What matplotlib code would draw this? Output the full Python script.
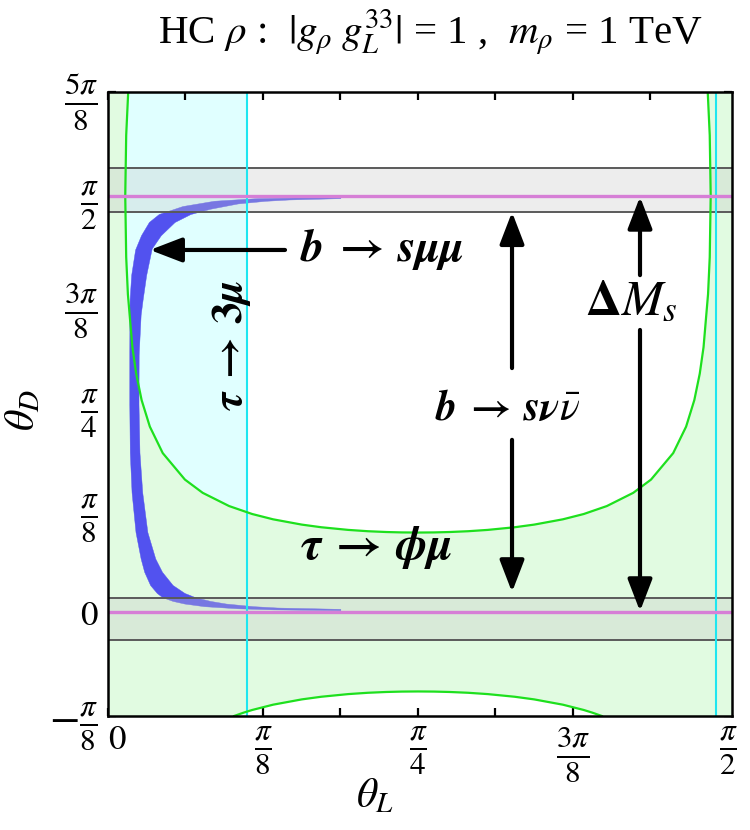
import numpy as np
import matplotlib
matplotlib.use('Agg')
import matplotlib.pyplot as plt
from matplotlib.transforms import ScaledTranslation

plt.rcParams['font.family'] = ['Liberation Serif', 'DejaVu Serif']
plt.rcParams['mathtext.fontset'] = 'stix'

PI = np.pi

# ---------------- data (radians) ----------------
xtick_vals = [0, PI/8, PI/4, 3*PI/8, PI/2]
xtick_labels = [r'$0$', r'$\frac{\pi}{8}$', r'$\frac{\pi}{4}$', r'$\frac{3\pi}{8}$', r'$\frac{\pi}{2}$']
ytick_vals = [-PI/8, 0, PI/8, PI/4, 3*PI/8, PI/2, 5*PI/8]
ytick_labels = [r'$-\frac{\pi}{8}$', r'$0$', r'$\frac{\pi}{8}$', r'$\frac{\pi}{4}$',
                r'$\frac{3\pi}{8}$', r'$\frac{\pi}{2}$', r'$\frac{5\pi}{8}$']

# tau -> phi mu : upper U-shaped boundary (theta_L, theta_D)
phimu_upper_L = [0.0512, 0.0461, 0.0437, 0.0461, 0.0504, 0.0618, 0.0714, 0.0852, 0.1060, 0.1387,
                 0.1949, 0.2399, 0.3069, 0.3653, 0.4182, 0.4909, 0.5404, 0.6086, 0.6585, 0.7051,
                 0.7447, 0.7854, 0.8261, 0.8657, 0.9123, 0.9622, 1.0304, 1.0799, 1.1526, 1.2055,
                 1.2639, 1.3309, 1.3759, 1.4321, 1.4648, 1.4856, 1.4994, 1.5090, 1.5204, 1.5247,
                 1.5271, 1.5247, 1.5196]
phimu_upper_D = [1.9635, 1.80, 1.571, 1.34, 1.20, 1.00, 0.90, 0.80, 0.70, 0.60,
                 0.50, 0.45, 0.40, 0.37, 0.35, 0.33, 0.32, 0.31, 0.305, 0.302,
                 0.3005, 0.300, 0.3005, 0.302, 0.305, 0.31, 0.32, 0.33, 0.35, 0.37,
                 0.40, 0.45, 0.50, 0.60, 0.70, 0.80, 0.90, 1.00, 1.20, 1.34,
                 1.571, 1.80, 1.9635]
# tau -> phi mu : lower boundary
phimu_lower_L = [0.3195, 0.3437, 0.3653, 0.4182, 0.4909, 0.5404, 0.6086, 0.6585, 0.7051, 0.7447,
                 0.7854, 0.8261, 0.8657, 0.9123, 0.9622, 1.0304, 1.0799, 1.1526, 1.2055, 1.2271,
                 1.2513]
phimu_lower_D = [-0.3927, -0.38, -0.37, -0.35, -0.33, -0.32, -0.31, -0.305, -0.302, -0.3005,
                 -0.300, -0.3005, -0.302, -0.305, -0.31, -0.32, -0.33, -0.35, -0.37, -0.38,
                 -0.3927]

# tau -> 3 mu boundaries in theta_L
tau3mu_left = 0.352
tau3mu_right = 1.541

# Delta M_s bands in theta_D
dms_band_low = (-0.1070, 0.0535)
dms_band_high = (1.5110, 1.6754)
# purple lines
purple_lines = [0.0, PI/2]

# b -> s mu mu band: outer edge (lower tail -> upper tail), then inner edge (upper tail -> lower tail)
bsmm_outer_L = [0.590, 0.420, 0.330, 0.245, 0.195, 0.165, 0.139, 0.125, 0.108, 0.093,
                0.084, 0.071, 0.061, 0.0565, 0.0552, 0.0552, 0.0556, 0.0560, 0.0600, 0.0700,
                0.0850, 0.1050, 0.1300, 0.1500, 0.1900, 0.2700, 0.3800, 0.590]
bsmm_outer_D = [0.0049, 0.008, 0.012, 0.020, 0.030, 0.040, 0.054, 0.070, 0.100, 0.150,
                0.200, 0.300, 0.450, 0.600, 0.785, 0.971, 1.121, 1.178, 1.271, 1.367,
                1.421, 1.471, 1.501, 1.511, 1.531, 1.551, 1.561, 1.5659]
bsmm_inner_L = [0.590, 0.460, 0.400, 0.330, 0.260, 0.210, 0.170, 0.135, 0.112, 0.098,
                0.089, 0.084, 0.0790, 0.0785, 0.0810, 0.0880, 0.1010, 0.1210, 0.1380, 0.1650,
                0.1950, 0.2220, 0.2600, 0.3000, 0.3700, 0.4300, 0.590]
bsmm_inner_D = [1.5608, 1.5558, 1.5508, 1.5408, 1.5208, 1.5008, 1.4708, 1.4208, 1.3708, 1.2708,
                1.1780, 1.1208, 0.9708, 0.785, 0.600, 0.450, 0.300, 0.200, 0.150, 0.100,
                0.070, 0.054, 0.040, 0.030, 0.020, 0.015, 0.0100]

# ---------------- figure ----------------
XMIN, XMAX = 0.0, 1.5811
YMIN, YMAX = -PI/8, 5*PI/8

fig = plt.figure(figsize=(7.5, 8.3), dpi=100)
ax = fig.add_axes([108/750, (830-716)/830, 624/750, 624/830])
ax.set_xlim(XMIN, XMAX)
ax.set_ylim(YMIN, YMAX)

green_fill = '#e1fbe1'
cyan_fill = '#e0ffff'
green_line = '#1ee01e'
cyan_line = '#1ee6f0'

# tau -> 3 mu allowed strips
ax.axvspan(XMIN, tau3mu_left, color=cyan_fill, lw=0, zorder=1)
ax.axvspan(tau3mu_right, XMAX, color=cyan_fill, lw=0, zorder=1)

# tau -> phi mu allowed region polygon
poly_x = [XMIN, XMIN] + phimu_upper_L + [XMAX, XMAX] + phimu_lower_L[::-1]
poly_y = [YMIN, YMAX] + phimu_upper_D + [YMAX, YMIN] + phimu_lower_D[::-1]
ax.fill(poly_x, poly_y, color=green_fill, lw=0, zorder=2)

# b -> s mu mu band
band_x = bsmm_outer_L + bsmm_inner_L
band_y = bsmm_outer_D + bsmm_inner_D
ax.fill(band_x, band_y, color='#5252ef', lw=0.3, ec='#5252ef', zorder=3)

# Delta M_s bands
for lo, hi in (dms_band_low, dms_band_high):
    ax.axhspan(lo, hi, color=(0.78, 0.78, 0.78), alpha=0.32, lw=0, zorder=4)
    ax.axhline(lo, color='#5a5a5a', lw=1.4, zorder=5)
    ax.axhline(hi, color='#5a5a5a', lw=1.4, zorder=5)

# boundary lines
ax.axvline(tau3mu_left, color=cyan_line, lw=1.5, zorder=6)
ax.axvline(tau3mu_right, color=cyan_line, lw=1.5, zorder=6)
ax.plot(phimu_upper_L, phimu_upper_D, color=green_line, lw=1.6, zorder=6)
ax.plot(phimu_lower_L, phimu_lower_D, color=green_line, lw=1.6, zorder=6)
for yv in purple_lines:
    ax.axhline(yv, color='#d67fd6', lw=2.4, zorder=7)

# ticks
ax.set_xticks(xtick_vals)
ax.set_xticklabels(xtick_labels, fontsize=32)
ax.set_yticks(ytick_vals)
ax.set_yticklabels(ytick_labels, fontsize=32)
ax.get_xticklabels()[0].set_fontsize(25)
ax.get_yticklabels()[1].set_fontsize(25)
ax.set_xticks([PI/16 * k for k in range(1, 8, 2)], minor=True)
ax.set_yticks([PI/16 * k for k in range(-1, 10, 2)], minor=True)
ax.tick_params(which='both', direction='in', length=6, width=1.6, top=True, right=True, color='black')
ax.tick_params(axis='x', pad=6)
ax.tick_params(axis='y', pad=7)
for s in ax.spines.values():
    s.set_linewidth(1.8)
    s.set_zorder(10)
lbl0 = ax.get_xticklabels()[0]
lbl0.set_transform(lbl0.get_transform() + ScaledTranslation(9/100, 0, fig.dpi_scale_trans))

# axis labels & title
fig.text(375/750, 1 - 797/830, r'$\theta_L$', fontsize=30, ha='center', va='center')
fig.text(24/750, 1 - 410/830, r'$\theta_D$', fontsize=30, ha='center', va='center', rotation=90)
fig.text(430/750, 1 - 32/830, r'HC $\rho$ :  $|g_\rho\; g_L^{33}|$ = 1 ,  $m_\rho$ = 1 TeV',
         fontsize=29.5, ha='center', va='center')

# annotations
arrow_kw = dict(arrowstyle='-|>,head_length=1.3,head_width=0.5', lw=3, color='black',
                shrinkA=0, shrinkB=0, mutation_scale=15)
ax.annotate('', xy=(0.1064, 1.367), xytext=(0.4485, 1.367), arrowprops=arrow_kw, zorder=8)
ax.text(0.4866, 1.372, r'$\boldsymbol{b\;\to\; s\mu\mu}$', fontsize=33, ha='left', va='center', zorder=8)
ax.text(0.314, 1.008, r'$\boldsymbol{\tau\;\to\; 3\mu}$', fontsize=31, ha='center', va='center',
        rotation=90, zorder=8)
ax.text(1.2087, 1.171, r'$\boldsymbol{\Delta M_s}$', fontsize=36, ha='left', va='center', zorder=8)
ax.annotate('', xy=(1.348, 1.568), xytext=(1.348, 1.272), arrowprops=arrow_kw, zorder=8)
ax.annotate('', xy=(1.348, 0.003), xytext=(1.348, 1.065), arrowprops=arrow_kw, zorder=8)
ax.text(0.8286, 0.763, r'$\boldsymbol{b\;\to\; s\nu\bar{\nu}}$', fontsize=30, ha='left', va='center', zorder=8)
ax.annotate('', xy=(1.0237, 1.510), xytext=(1.0237, 0.921), arrowprops=arrow_kw, zorder=8)
ax.annotate('', xy=(1.0237, 0.075), xytext=(1.0237, 0.650), arrowprops=arrow_kw, zorder=8)
ax.text(0.4866, 0.2417, r'$\boldsymbol{\tau\;\to\; \phi\mu}$', fontsize=34, ha='left', va='center', zorder=8)

fig.savefig('out.png', dpi=100)
